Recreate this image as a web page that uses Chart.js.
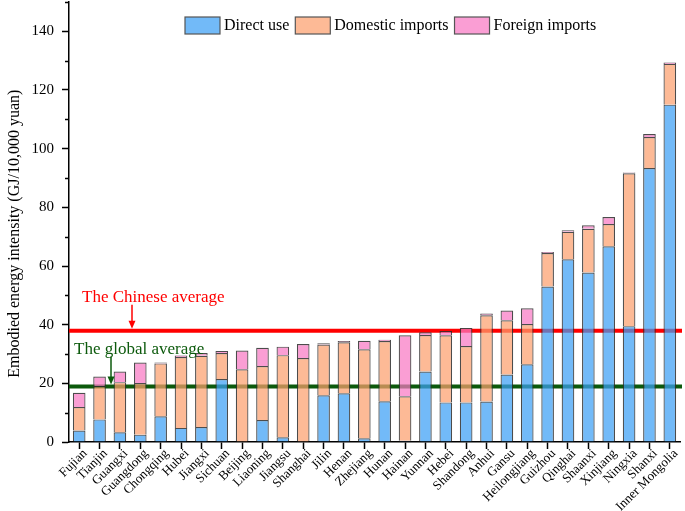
<!DOCTYPE html>
<html>
<head>
<meta charset="utf-8">
<script src="https://cdn.jsdelivr.net/npm/chart.js@4.4.1/dist/chart.umd.min.js"></script>
<style>
  body { margin: 0; background: #fff; }
  #wrap { width: 685px; height: 511px; position: relative; }
</style>
</head>
<body>
<div id="wrap"><canvas id="chart"></canvas></div>
<script>
const provinces = ["Fujian", "Tianjin", "Guangxi", "Guangdong", "Chongqing", "Hubei", "Jiangxi", "Sichuan",
  "Beijing", "Liaoning", "Jiangsu", "Shanghai", "Jilin", "Henan", "Zhejiang", "Hunan", "Hainan", "Yunnan",
  "Hebei", "Shandong", "Anhui", "Gansu", "Heilongjiang", "Guizhou", "Qinghai", "Shaanxi", "Xinjiang",
  "Ningxia", "Shanxi", "Inner Mongolia"];

const directUse = [3.9, 7.7, 3.3, 2.5, 8.8, 4.8, 5.1, 21.5, 0.2, 7.5, 1.6, 0.2, 15.9, 16.6, 1.3, 13.9, 0.4, 24.0,
  13.5, 13.5, 13.8, 23.0, 26.5, 53.0, 62.3, 57.8, 66.7, 39.5, 93.4, 115.0];
const domesticImports = [8.0, 11.4, 17.1, 17.6, 18.0, 24.2, 24.3, 8.8, 24.6, 18.4, 28.0, 28.4, 17.3, 17.4, 30.3,
  20.5, 15.2, 12.5, 22.9, 19.2, 29.4, 18.5, 13.7, 11.4, 9.4, 14.9, 7.6, 52.1, 10.6, 13.9];
const foreignImports = [4.9, 3.2, 3.6, 7.0, 0.3, 0.5, 0.9, 0.7, 6.4, 6.2, 2.9, 4.8, 0.5, 0.4, 2.9, 0.5, 20.8, 0.9,
  1.4, 6.2, 0.6, 3.3, 5.4, 0.4, 0.5, 1.2, 2.4, 0.3, 1.0, 0.5];

const chineseAverage = 37.9;
const globalAverage = 18.9;
const yTitle = "Embodied energy intensity (GJ/10,000 yuan)";

const serif = "'Liberation Serif', 'Times New Roman', serif";
Chart.defaults.font.family = serif;
Chart.defaults.color = "#000";

// Average lines go under the bars (bars are slightly transparent, like the original)
const averageLines = {
  id: "averageLines",
  beforeDatasetsDraw(chart) {
    const { ctx, chartArea, scales } = chart;
    const draw = (val, color) => {
      const y = scales.y.getPixelForValue(val);
      ctx.save();
      ctx.strokeStyle = color;
      ctx.lineWidth = 4;
      ctx.beginPath();
      ctx.moveTo(chartArea.left, y);
      ctx.lineTo(chartArea.right + 2, y);
      ctx.stroke();
      ctx.restore();
    };
    draw(chineseAverage, "#ff0000");
    draw(globalAverage, "#0c5a0c");
  },
  afterDraw(chart) {
    const { ctx, chartArea, scales } = chart;
    const y = scales.y;
    ctx.save();
    // minor ticks on the y axis
    ctx.strokeStyle = "#000";
    ctx.lineWidth = 1.5;
    for (let v = 10; v <= 150; v += 20) {
      const py = Math.round(y.getPixelForValue(v)) + 0.5;
      ctx.beginPath();
      ctx.moveTo(chartArea.left - 4, py);
      ctx.lineTo(chartArea.left, py);
      ctx.stroke();
    }

    // y axis title (sits a bit lower than centre in the original)
    ctx.save();
    ctx.translate(15, y.getPixelForValue(71));
    ctx.rotate(-Math.PI / 2);
    ctx.font = "16px " + serif;
    ctx.fillStyle = "#000";
    ctx.textAlign = "center";
    ctx.textBaseline = "middle";
    ctx.fillText(yTitle, 0, 0);
    ctx.restore();

    // legend row inside the plot, at the top
    ctx.font = "16px " + serif;
    ctx.textBaseline = "middle";
    let lx = 185;
    const ly = chartArea.top + 15;
    chart.data.datasets.forEach((ds) => {
      ctx.fillStyle = "#fff";
      ctx.fillRect(lx, ly, 35, 17);
      ctx.fillStyle = ds.backgroundColor;
      ctx.fillRect(lx, ly, 35, 17);
      ctx.strokeStyle = "#555";
      ctx.lineWidth = 1.2;
      ctx.strokeRect(lx, ly, 35, 17);
      ctx.fillStyle = "#000";
      ctx.fillText(ds.label, lx + 39, ly + 9);
      lx += 39 + ctx.measureText(ds.label).width + 6;
    });

    // annotation texts + arrows
    const arrow = (x, y0, y1, color) => {
      ctx.strokeStyle = color;
      ctx.fillStyle = color;
      ctx.lineWidth = 1.5;
      ctx.beginPath();
      ctx.moveTo(x, y0);
      ctx.lineTo(x, y1 - 6);
      ctx.stroke();
      ctx.beginPath();
      ctx.moveTo(x - 3.5, y1 - 8);
      ctx.lineTo(x + 3.5, y1 - 8);
      ctx.lineTo(x, y1);
      ctx.closePath();
      ctx.fill();
    };
    const yCn = y.getPixelForValue(chineseAverage);
    const yGl = y.getPixelForValue(globalAverage);
    ctx.font = "17px " + serif;
    ctx.textBaseline = "alphabetic";
    ctx.fillStyle = "#ff0000";
    ctx.fillText("The Chinese average", chartArea.left + 13, yCn - 29);
    arrow(chartArea.left + 63, yCn - 26, yCn - 2, "#ff0000");
    ctx.fillStyle = "#0c5a0c";
    ctx.fillText("The global average", chartArea.left + 5, yGl - 33);
    arrow(chartArea.left + 42, yGl - 30, yGl - 2, "#0c5a0c");
    ctx.restore();
  }
};

const border = "rgba(45,45,45,0.85)";

new Chart(document.getElementById("chart"), {
  type: "bar",
  data: {
    labels: provinces,
    datasets: [
      { label: "Direct use", data: directUse, backgroundColor: "rgba(60,160,245,0.72)", borderColor: border, borderWidth: 1.2 },
      { label: "Domestic imports", data: domesticImports, backgroundColor: "rgba(252,160,110,0.72)", borderColor: border, borderWidth: 1.2 },
      { label: "Foreign imports", data: foreignImports, backgroundColor: "rgba(248,120,195,0.72)", borderColor: border, borderWidth: 1.2 }
    ]
  },
  options: {
    responsive: true,
    maintainAspectRatio: false,
    animation: false,
    datasets: { bar: { barPercentage: 0.62, categoryPercentage: 1.0 } },
    layout: { padding: { top: 2, right: 5, left: 0, bottom: 0 } },
    plugins: {
      tooltip: { enabled: false },
      legend: { display: false }
    },
    scales: {
      x: {
        stacked: true,
        offset: true,
        grid: { display: true, drawOnChartArea: false, offset: false, tickLength: 7, tickColor: "#000", tickWidth: 1.5 },
        border: { color: "#000", width: 1.5 },
        ticks: { maxRotation: 45, minRotation: 45, autoSkip: false, padding: -3, labelOffset: 6, font: { size: 13, family: serif } },
        afterFit(s) { s.height = 69; s.paddingTop = 0; }
      },
      y: {
        stacked: true,
        min: 0,
        max: 150,
        grid: { drawOnChartArea: false, tickLength: 7, tickColor: "#000", tickWidth: 1.5 },
        border: { color: "#000", width: 1.5 },
        ticks: { stepSize: 20, includeBounds: false, padding: 8, font: { size: 15, family: serif } },
        afterFit(s) { s.width = 69; s.paddingTop = 0; s.paddingBottom = 0; }
      }
    }
  },
  plugins: [averageLines]
});
</script>
</body>
</html>
